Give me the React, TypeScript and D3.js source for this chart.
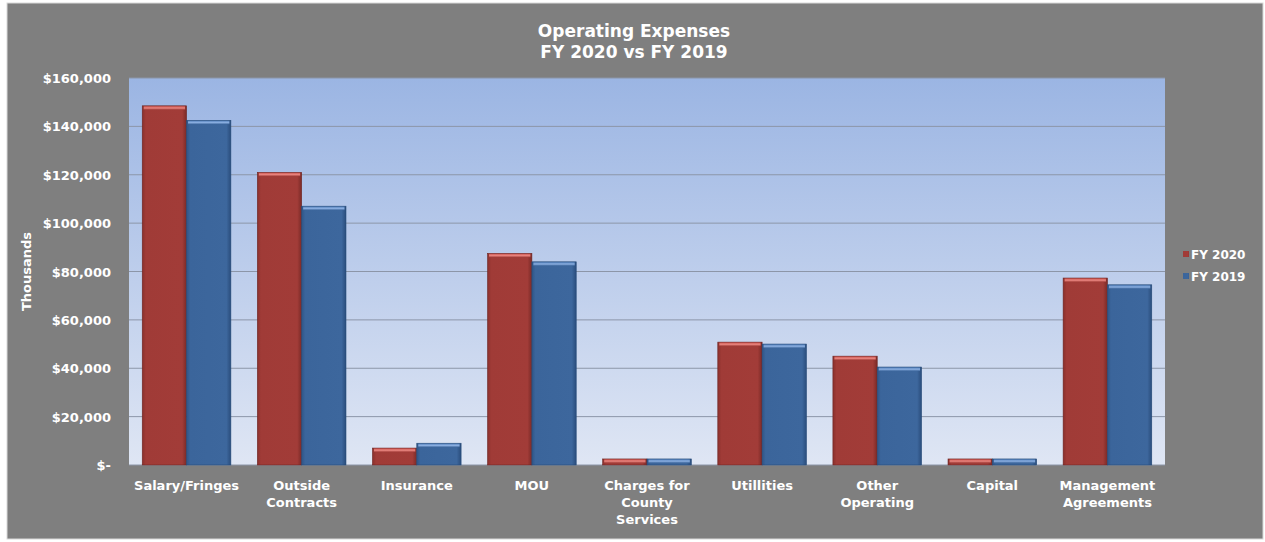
import React from "react";
import * as d3 from "d3";

const categories: string[][] = [
  ["Salary/Fringes"],
  ["Outside", "Contracts"],
  ["Insurance"],
  ["MOU"],
  ["Charges for", "County", "Services"],
  ["Utillities"],
  ["Other", "Operating"],
  ["Capital"],
  ["Management", "Agreements"],
];
const fy2020: number[] = [148500, 121000, 7000, 87500, 2500, 50800, 45000, 2500, 77300];
const fy2019: number[] = [142500, 107000, 9000, 84000, 2500, 50000, 40500, 2500, 74500];
const seriesNames: string[] = ["FY 2020", "FY 2019"];
const yTicks: number[] = [0, 20000, 40000, 60000, 80000, 100000, 120000, 140000, 160000];

const W = 1265, H = 542;
const plot = { l: 129, r: 1165, t: 78, b: 465 };
const FONT = "'DejaVu Sans', Verdana, sans-serif";

export default function App() {
  const x = d3.scaleBand<number>().domain(categories.map((_, i) => i)).range([plot.l, plot.r]).paddingInner(0).paddingOuter(0);
  const y = d3.scaleLinear().domain([0, 160000]).range([plot.b, plot.t]);
  const bw = x.bandwidth() * 0.385;
  const fmt = (v: number) => (v === 0 ? "$-" : "$" + d3.format(",")(v));
  const series = [
    { name: seriesNames[0], vals: fy2020, grad: "gRed", top: "gRedTop", edge: "#6e2522" },
    { name: seriesNames[1], vals: fy2019, grad: "gBlue", top: "gBlueTop", edge: "#254a78" },
  ];
  return (
    <svg width={W} height={H} style={{ position: "absolute", left: 0, top: 0 }} fontFamily={FONT}>
      <defs>
        <linearGradient id="bg" x1="0" y1="0" x2="0" y2="1">
          <stop offset="0" stopColor="#9bb5e3" />
          <stop offset="1" stopColor="#dfe6f4" />
        </linearGradient>
        <linearGradient id="gRed" x1="0" y1="0" x2="1" y2="0">
          <stop offset="0" stopColor="#8a302c" />
          <stop offset="0.08" stopColor="#a03b37" />
          <stop offset="0.9" stopColor="#a23c38" />
          <stop offset="1" stopColor="#7a2a27" />
        </linearGradient>
        <linearGradient id="gBlue" x1="0" y1="0" x2="1" y2="0">
          <stop offset="0" stopColor="#2f5587" />
          <stop offset="0.08" stopColor="#3b659b" />
          <stop offset="0.9" stopColor="#3d679d" />
          <stop offset="1" stopColor="#2a4d7c" />
        </linearGradient>
        <linearGradient id="gRedTop" x1="0" y1="0" x2="0" y2="1">
          <stop offset="0" stopColor="#d05a55" />
          <stop offset="0.5" stopColor="#e8847e" />
          <stop offset="1" stopColor="#a23c38" />
        </linearGradient>
        <linearGradient id="gBlueTop" x1="0" y1="0" x2="0" y2="1">
          <stop offset="0" stopColor="#5a86c0" />
          <stop offset="0.5" stopColor="#8aaee0" />
          <stop offset="1" stopColor="#3d679d" />
        </linearGradient>
      </defs>
      <rect x={0} y={0} width={W} height={H} fill="#ffffff" />
      <rect x={7} y={3} width={1256} height={536} fill="#7f7f7f" stroke="#d9d9d9" strokeWidth={1} />
      <text x={634} y={37} textAnchor="middle" fill="#ffffff" fontWeight="bold" fontSize={17}>Operating Expenses</text>
      <text x={634} y={58} textAnchor="middle" fill="#ffffff" fontWeight="bold" fontSize={17}>FY 2020 vs FY 2019</text>
      <rect x={plot.l} y={plot.t} width={plot.r - plot.l} height={plot.b - plot.t} fill="url(#bg)" />
      {yTicks.map((t) => (
        <g key={t}>
          {t > 0 && <line x1={plot.l} x2={plot.r} y1={y(t)} y2={y(t)} stroke="#8c96a8" strokeWidth={1} />}
          <text x={plot.l - 18} y={y(t) + 5} textAnchor="end" fill="#ffffff" fontWeight="bold" fontSize={13}>{fmt(t)}</text>
        </g>
      ))}
      <line x1={plot.l} x2={plot.r} y1={plot.b} y2={plot.b} stroke="#8c96a8" />
      {categories.map((c, i) => {
        const cx = (x(i) as number) + x.bandwidth() / 2;
        return (
          <g key={i}>
            {series.map((s, k) => {
              const bx = cx - bw + k * bw;
              const by = y(s.vals[i]);
              const h = plot.b - by;
              return (
                <g key={k}>
                  <rect x={bx} y={by} width={bw} height={h} fill={`url(#${s.grad})`} stroke={s.edge} strokeWidth={0.6} />
                  <rect x={bx + 1.5} y={by + 0.5} width={bw - 3} height={Math.min(3.5, h)} fill={`url(#${s.top})`} />
                </g>
              );
            })}
            {c.map((line, j) => (
              <text key={j} x={cx} y={490 + j * 17} textAnchor="middle" fill="#ffffff" fontWeight="bold" fontSize={13}>{line}</text>
            ))}
          </g>
        );
      })}
      <text transform={`translate(31,${(plot.t + plot.b) / 2}) rotate(-90)`} textAnchor="middle" fill="#ffffff" fontWeight="bold" fontSize={13}>Thousands</text>
      {series.map((s, k) => (
        <g key={k}>
          <rect x={1183} y={251 + k * 22} width={6} height={6} fill={`url(#${s.grad})`} />
          <text x={1191} y={259 + k * 22} fill="#ffffff" fontWeight="bold" fontSize={12}>{s.name}</text>
        </g>
      ))}
    </svg>
  );
}
